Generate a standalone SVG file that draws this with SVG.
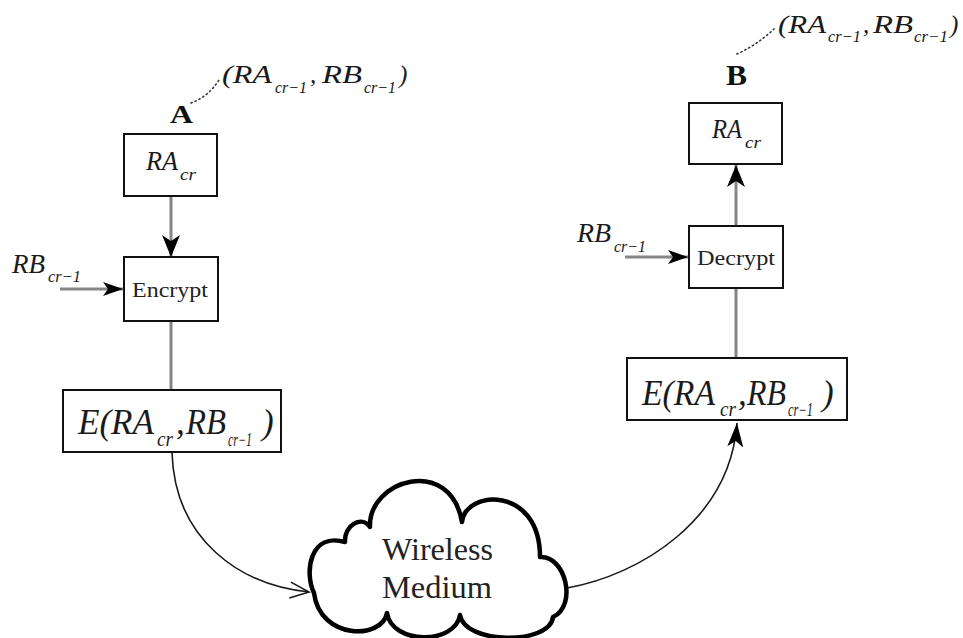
<svg xmlns="http://www.w3.org/2000/svg" width="963" height="638" viewBox="0 0 963 638">
<style>
.box{fill:#fff;stroke:#111;stroke-width:2}
.ln{stroke:#858585;stroke-width:3;fill:none}
.cv{stroke:#1a1a1a;stroke-width:1.6;fill:none}
.dot{stroke:#333;stroke-width:1.6;fill:none;stroke-dasharray:1.2 3.2;stroke-linecap:round}
.m{font-family:"Times New Roman","Liberation Serif",Tinos,serif;font-style:italic;fill:#1a1a1a}
.r{font-family:"Times New Roman","Liberation Serif",Tinos,serif;fill:#222}
.b{font-family:"Times New Roman","Liberation Serif",Tinos,serif;font-weight:bold;fill:#111}
.cloud{fill:#fff;stroke:#000;stroke-width:4.5;stroke-linejoin:round}
</style>
<defs>
<marker id="stealth" markerUnits="userSpaceOnUse" viewBox="0 0 22 18" markerWidth="22" markerHeight="18" refX="22" refY="9" orient="auto"><path d="M0,0 L22,9 L0,18 L6,9 z" fill="#000"/></marker>
<marker id="stealthS" markerUnits="userSpaceOnUse" viewBox="0 0 20 14" markerWidth="20" markerHeight="14" refX="20" refY="7" orient="auto"><path d="M0,0 L20,7 L0,14 L5,7 z" fill="#000"/></marker>
<marker id="stealthC" markerUnits="userSpaceOnUse" viewBox="0 0 24 16" markerWidth="24" markerHeight="16" refX="24" refY="8" orient="auto"><path d="M0,0 L24,8 L0,16 L6,8 z" fill="#000"/></marker>
<marker id="openV" markerUnits="userSpaceOnUse" viewBox="-1 -1 22 18" markerWidth="22" markerHeight="18" refX="19" refY="8" orient="auto"><path d="M0,0 L19,8 L0,16" fill="none" stroke="#1a1a1a" stroke-width="1.6"/></marker>
</defs>

<g id="connectors">
<line class="ln" x1="171" y1="196" x2="171" y2="257" marker-end="url(#stealth)"/>
<line class="ln" x1="60" y1="289" x2="123" y2="289" marker-end="url(#stealthS)"/>
<line class="ln" x1="171" y1="321" x2="171" y2="390"/>
<line class="ln" x1="736" y1="226" x2="736" y2="165" marker-end="url(#stealth)"/>
<line class="ln" x1="625" y1="257" x2="688" y2="257" marker-end="url(#stealthS)"/>
<line class="ln" x1="736" y1="288" x2="736" y2="358"/>
<path class="cv" d="M172,453 C175,540 240,585 309,592" marker-end="url(#openV)"/>
<path class="cv" d="M567,588 C640,575 730,520 737,423" marker-end="url(#stealthC)"/>
<path class="dot" d="M191,103 Q208,97 219,80"/>
<path class="dot" d="M737,54 Q757,45 774,29"/>
</g>

<g id="labelA">
<text class="b" x="170" y="123" font-size="26" textLength="23" lengthAdjust="spacingAndGlyphs">A</text>
</g>
<g id="prevA">
<text class="m" font-size="25"><tspan x="222" y="83" textLength="50" lengthAdjust="spacingAndGlyphs">(RA</tspan><tspan x="275" y="93" font-size="17" textLength="32" lengthAdjust="spacingAndGlyphs">cr−1</tspan><tspan x="310" y="83">,</tspan><tspan x="322" y="83" textLength="40" lengthAdjust="spacingAndGlyphs">RB</tspan><tspan x="364" y="93" font-size="17" textLength="32" lengthAdjust="spacingAndGlyphs">cr−1</tspan><tspan x="399" y="83">)</tspan></text>
</g>

<g id="raA">
<rect class="box" x="124" y="134" width="93" height="62"/>
<text class="m" font-size="27"><tspan x="146" y="170" textLength="32" lengthAdjust="spacingAndGlyphs">RA</tspan><tspan x="180" y="180" font-size="17" textLength="16" lengthAdjust="spacingAndGlyphs">cr</tspan></text>
</g>

<g id="rbA">
<text class="m" font-size="27"><tspan x="12" y="273" textLength="33" lengthAdjust="spacingAndGlyphs">RB</tspan><tspan x="48" y="282" font-size="17" textLength="33" lengthAdjust="spacingAndGlyphs">cr−1</tspan></text>
</g>

<g id="encrypt">
<rect class="box" x="124" y="257" width="94" height="64"/>
<text class="r" x="132" y="297" font-size="21" textLength="76" lengthAdjust="spacingAndGlyphs">Encrypt</text>
</g>

<g id="encA">
<rect class="box" x="63" y="390" width="218" height="62"/>
<text class="m" font-size="35"><tspan x="78" y="434" textLength="76" lengthAdjust="spacingAndGlyphs">E(RA</tspan><tspan x="157" y="446" font-size="20" textLength="16" lengthAdjust="spacingAndGlyphs">cr</tspan><tspan x="176" y="434">,</tspan><tspan x="186" y="434" textLength="40" lengthAdjust="spacingAndGlyphs">RB</tspan><tspan x="228" y="446" font-size="18" textLength="24" lengthAdjust="spacingAndGlyphs">cr−1</tspan><tspan x="262" y="434">)</tspan></text>
</g>

<g id="cloud">
<path class="cloud" d="M314,593 C304,572 310,532 345,542 C344,525 362,515 370,527 C368,480 450,455 462,522 C465,490 540,485 540,557 C565,555 578,605 553,617 C550,645 465,645 460,615 C455,645 392,645 387,613 C382,640 320,640 314,593 Z"/>
<text class="r" x="382" y="560" font-size="31" textLength="111" lengthAdjust="spacingAndGlyphs">Wireless</text>
<text class="r" x="382" y="598" font-size="31" textLength="110" lengthAdjust="spacingAndGlyphs">Medium</text>
</g>

<g id="encB">
<rect class="box" x="627" y="358" width="220" height="62"/>
<text class="m" font-size="35"><tspan x="642" y="405" textLength="73" lengthAdjust="spacingAndGlyphs">E(RA</tspan><tspan x="720" y="416" font-size="20" textLength="16" lengthAdjust="spacingAndGlyphs">cr</tspan><tspan x="738" y="405">,</tspan><tspan x="747" y="405" textLength="39" lengthAdjust="spacingAndGlyphs">RB</tspan><tspan x="788" y="416" font-size="18" textLength="25" lengthAdjust="spacingAndGlyphs">cr−1</tspan><tspan x="822" y="405">)</tspan></text>
</g>

<g id="decrypt">
<rect class="box" x="689" y="226" width="94" height="62"/>
<text class="r" x="697" y="265" font-size="21" textLength="78" lengthAdjust="spacingAndGlyphs">Decrypt</text>
</g>

<g id="rbB">
<text class="m" font-size="27"><tspan x="577" y="242" textLength="34" lengthAdjust="spacingAndGlyphs">RB</tspan><tspan x="614" y="252" font-size="17" textLength="32" lengthAdjust="spacingAndGlyphs">cr−1</tspan></text>
</g>

<g id="raB">
<rect class="box" x="689" y="103" width="93" height="61"/>
<text class="m" font-size="27"><tspan x="712" y="138" textLength="30" lengthAdjust="spacingAndGlyphs">RA</tspan><tspan x="745" y="148" font-size="17" textLength="16" lengthAdjust="spacingAndGlyphs">cr</tspan></text>
</g>

<g id="labelB">
<text class="b" x="726" y="85" font-size="29" textLength="21" lengthAdjust="spacingAndGlyphs">B</text>
</g>
<g id="prevB">
<text class="m" font-size="25"><tspan x="778" y="33" textLength="48" lengthAdjust="spacingAndGlyphs">(RA</tspan><tspan x="828" y="42" font-size="17" textLength="33" lengthAdjust="spacingAndGlyphs">cr−1</tspan><tspan x="863" y="33">,</tspan><tspan x="873" y="33" textLength="40" lengthAdjust="spacingAndGlyphs">RB</tspan><tspan x="914" y="42" font-size="17" textLength="34" lengthAdjust="spacingAndGlyphs">cr−1</tspan><tspan x="950" y="33">)</tspan></text>
</g>
</svg>
